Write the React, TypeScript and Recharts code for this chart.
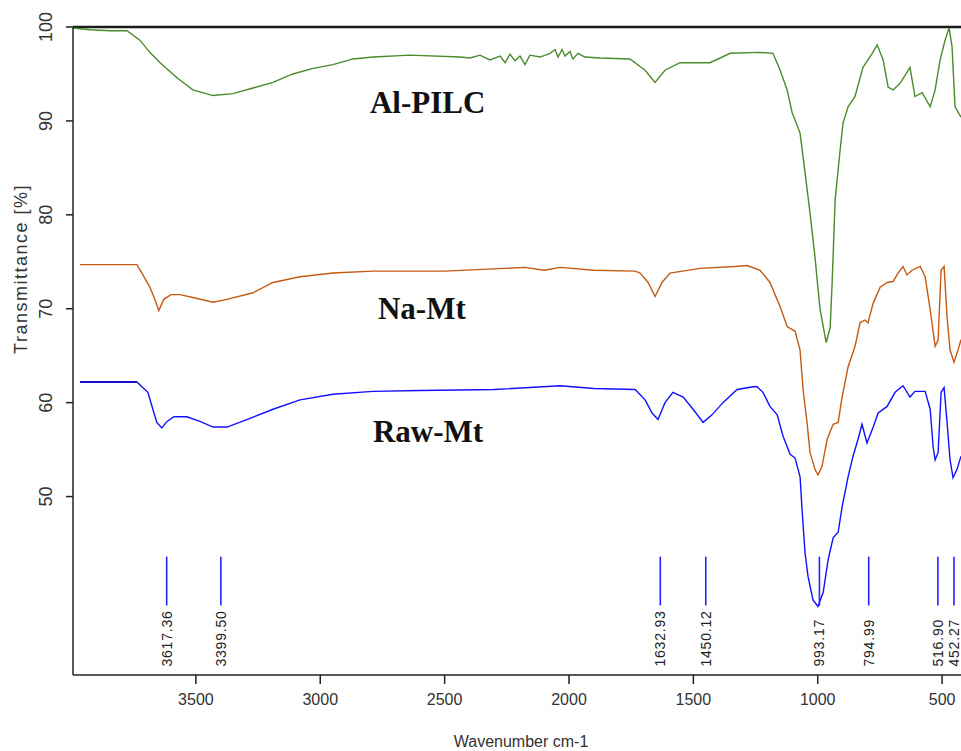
import React from "react";
import { LineChart, Line, XAxis, YAxis, ReferenceLine, ReferenceDot } from "recharts";

// FTIR spectra, wavenumber (cm-1) vs transmittance (%).
const alPilcWave = [
  3994, 3926, 3845, 3777, 3725, 3685, 3644, 3576, 3512, 3431, 3351, 3270, 3190, 3110, 3029, 2949, 2868, 2788, 2639,
  2438, 2398, 2358, 2318, 2277, 2257, 2237, 2217, 2197, 2177, 2157, 2116, 2076, 2056, 2044, 2028, 2016, 1996, 1984,
  1964, 1936, 1875, 1755, 1694, 1654, 1614, 1554, 1433, 1352, 1232, 1180, 1151, 1123, 1103, 1071, 1051, 1031, 1011,
  991, 966, 950, 942, 930, 910, 898, 878, 850, 818, 781, 761, 737, 717, 697, 669, 629, 609, 580, 548, 528, 508, 488,
  472, 460, 448, 424,
];
const alPilcT = [
  99.9, 99.7, 99.6, 99.6, 98.6, 97.3, 96.2, 94.6, 93.3, 92.7, 92.9, 93.5, 94.1, 95.0, 95.6, 96.0, 96.6, 96.8, 97.0,
  96.8, 96.7, 97.0, 96.5, 96.9, 96.2, 97.1, 96.4, 96.9, 96.0, 97.0, 96.8, 97.2, 97.6, 96.8, 97.6, 96.9, 97.4, 96.6,
  97.2, 96.8, 96.7, 96.6, 95.4, 94.1, 95.4, 96.2, 96.2, 97.2, 97.3, 97.2, 95.4, 93.3, 90.9, 88.7, 84.5, 80.2, 75.5,
  70.0, 66.4, 68.0, 72.8, 81.6, 86.9, 89.8, 91.5, 92.6, 95.7, 97.2, 98.1, 96.5, 93.6, 93.3, 94.0, 95.7, 92.6, 93.0,
  91.5, 93.3, 96.5, 98.6, 99.9, 97.9, 91.5, 90.4,
];

const naMtWave = [
  3966, 3737, 3713, 3685, 3665, 3649, 3629, 3600, 3564, 3512, 3431, 3375, 3270, 3190, 3081, 2949, 2788, 2500, 2177,
  2100, 2036, 1900, 1734, 1714, 1682, 1654, 1626, 1594, 1473, 1332, 1284, 1232, 1192, 1151, 1123, 1091, 1071, 1059,
  1043, 1031, 1011, 999, 983, 962, 938, 918, 902, 878, 850, 830, 810, 798, 777, 749, 721, 697, 677, 657, 641, 621,
  588, 568, 548, 528, 516, 504, 492, 480, 468, 452, 436, 424,
];
const naMtT = [
  74.7, 74.7, 73.6, 72.3, 71.0, 69.8, 71.0, 71.5, 71.5, 71.2, 70.7, 71.0, 71.7, 72.8, 73.4, 73.8, 74.0, 74.0, 74.4,
  74.1, 74.4, 74.1, 74.0, 73.8, 72.8, 71.3, 72.8, 73.8, 74.3, 74.5, 74.6, 74.1, 72.8, 70.2, 68.1, 67.6, 65.6, 61.4,
  57.9, 54.7, 52.9, 52.3, 53.2, 56.1, 57.7, 57.9, 60.6, 63.8, 66.0, 68.5, 68.8, 68.5, 70.6, 72.3, 72.8, 72.9, 73.8,
  74.5, 73.6, 74.1, 74.5, 73.4, 69.9, 66.0, 66.7, 74.1, 74.5, 69.1, 65.6, 64.3, 65.6, 66.7,
];

const rawMtWave = [
  3966, 3737, 3717, 3693, 3673, 3657, 3637, 3616, 3588, 3536, 3484, 3431, 3375, 3295, 3190, 3081, 2949, 2788, 2600,
  2300, 2036, 1900, 1734, 1694, 1666, 1642, 1614, 1582, 1541, 1501, 1461, 1425, 1381, 1324, 1260, 1244, 1220, 1192,
  1163, 1139, 1111, 1091, 1071, 1063, 1051, 1039, 1019, 999, 978, 958, 938, 918, 902, 878, 858, 838, 822, 802, 777,
  757, 721, 689, 657, 629, 609, 568, 548, 536, 528, 516, 504, 492, 480, 468, 456, 440, 424,
];
const rawMtT = [
  62.2, 62.2, 61.7, 61.1, 59.3, 57.9, 57.3, 58.0, 58.5, 58.5, 58.0, 57.4, 57.4, 58.2, 59.3, 60.3, 60.9, 61.2, 61.3,
  61.4, 61.8, 61.5, 61.4, 60.3, 58.9, 58.2, 60.0, 61.1, 60.6, 59.3, 57.9, 58.7, 60.0, 61.4, 61.7, 61.7, 61.1, 59.6,
  58.7, 56.4, 54.5, 54.1, 52.1, 48.6, 44.0, 41.5, 39.0, 38.3, 39.8, 43.3, 45.6, 46.2, 48.9, 52.1, 54.3, 56.1, 57.7,
  55.7, 57.4, 58.9, 59.6, 61.1, 61.8, 60.6, 61.2, 61.2, 59.3, 55.3, 53.9, 54.7, 61.1, 61.6, 57.9, 53.9, 52.0, 52.9,
  54.3,
];

// peak picks marked under the spectra
const peakWave = [3617.36, 3399.5, 1632.93, 1450.12, 993.17, 794.99, 516.9, 452.27];

const xTicks = [3500, 3000, 2500, 2000, 1500, 1000, 500];
const yTicks = [50, 60, 70, 80, 90, 100];

const seriesNames = ["Al-PILC", "Na-Mt", "Raw-Mt"];
const nameAnchorWave = [2800, 2768, 2788];
const nameAnchorT = [90.85, 68.9, 55.85];

const zip = (w: number[], t: number[]) => w.map((x, i) => ({ w: x, t: t[i] }));
const alPilc = zip(alPilcWave, alPilcT);
const naMt = zip(naMtWave, naMtT);
const rawMt = zip(rawMtWave, rawMtT);

const YTick = ({ x, y, payload }: any) => (
  <text
    x={x - 6}
    y={y}
    transform={`rotate(-90 ${x - 6} ${y})`}
    textAnchor="middle"
    fontSize={18}
    fill="#333"
    fontFamily="Liberation Sans, Arial, sans-serif"
  >
    {payload.value}
  </text>
);

const YLabel = () => (
  <text
    x={27}
    y={269}
    transform="rotate(-90 27 269)"
    textAnchor="middle"
    fontSize={18}
    letterSpacing={1.5}
    fill="#333"
    fontFamily="Liberation Sans, Arial, sans-serif"
  >
    Transmittance [%]
  </text>
);

const XLabel = () => (
  <text x={521} y={747} textAnchor="middle" fontSize={16} fill="#333" fontFamily="Liberation Sans, Arial, sans-serif">
    Wavenumber cm-1
  </text>
);

export default function App() {
  return (
    <div style={{ position: "absolute", left: 0, top: 0, width: 961, height: 751, background: "#fff" }}>
      <LineChart width={961} height={751} margin={{ top: 27, right: 0, bottom: 0, left: 0 }}>
        <XAxis
          dataKey="w"
          type="number"
          domain={[424, 3994]}
          allowDataOverflow
          reversed
          ticks={xTicks}
          height={76}
          tickSize={9}
          tickMargin={10}
          axisLine={{ stroke: "#222", strokeWidth: 1.5 }}
          tickLine={{ stroke: "#222", strokeWidth: 1.5 }}
          tick={{ fill: "#333", fontSize: 16, fontFamily: "Liberation Sans, Arial, sans-serif" }}
          label={<XLabel />}
        />
        <YAxis
          dataKey="t"
          type="number"
          domain={[31, 100]}
          allowDataOverflow
          ticks={yTicks}
          width={73}
          tickSize={7}
          tickMargin={8}
          axisLine={{ stroke: "#222", strokeWidth: 1.5 }}
          tickLine={{ stroke: "#222", strokeWidth: 1.5 }}
          tick={<YTick />}
          label={<YLabel />}
        />
        <ReferenceLine y={100} stroke="#1a1a1a" strokeWidth={2.5} />
        <ReferenceLine
          segment={[
            { x: rawMtWave[0], y: rawMtT[0] },
            { x: rawMtWave[1], y: rawMtT[1] },
          ]}
          stroke="#111"
          strokeWidth={2}
        />
        <Line data={alPilc} dataKey="t" stroke="#4a8a2c" strokeWidth={1.4} dot={false} isAnimationActive={false} />
        <Line data={naMt} dataKey="t" stroke="#c55a11" strokeWidth={1.4} dot={false} isAnimationActive={false} />
        <Line data={rawMt} dataKey="t" stroke="#1010ff" strokeWidth={1.4} dot={false} isAnimationActive={false} />
        {peakWave.map((p) => (
          <ReferenceLine
            key={`l${p}`}
            segment={[
              { x: p, y: 43.6 },
              { x: p, y: 38.4 },
            ]}
            stroke="#2424ff"
            strokeWidth={1.6}
          />
        ))}
        {peakWave.map((p) => (
          <ReferenceDot
            key={`t${p}`}
            x={p}
            y={31.9}
            r={0}
            shape={(props: any) => (
              <text
                x={props.cx + 5}
                y={props.cy}
                transform={`rotate(-90 ${props.cx + 5} ${props.cy})`}
                textAnchor="start"
                fontSize={14}
                letterSpacing={0.8}
                fill="#222"
                fontFamily="Liberation Sans, Arial, sans-serif"
              >
                {p.toFixed(2)}
              </text>
            )}
          />
        ))}
        {seriesNames.map((n, i) => (
          <ReferenceDot
            key={n}
            x={nameAnchorWave[i]}
            y={nameAnchorT[i]}
            r={0}
            shape={(props: any) => (
              <text
                x={props.cx}
                y={props.cy}
                textAnchor="start"
                fontSize={31}
                fontWeight="bold"
                fill="#111"
                fontFamily="Liberation Serif, Times New Roman, serif"
              >
                {n}
              </text>
            )}
          />
        ))}
      </LineChart>
    </div>
  );
}
